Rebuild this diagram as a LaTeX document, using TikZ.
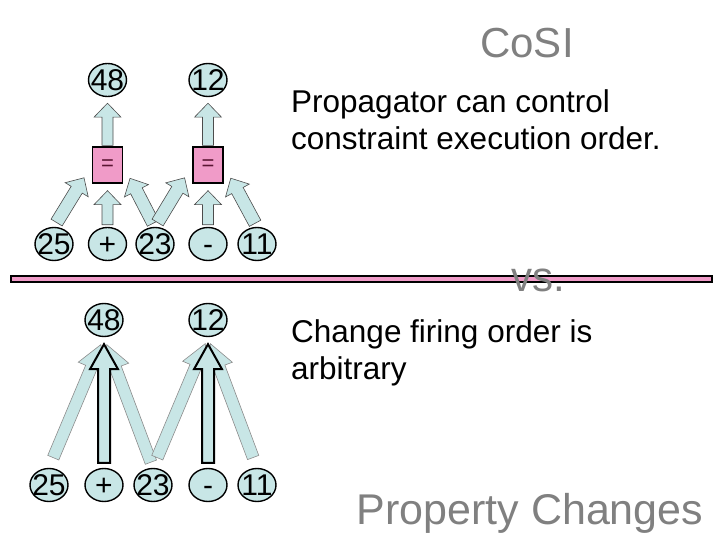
\documentclass[tikz,border=0pt]{standalone}
\usepackage{fontspec}
\setmainfont{Liberation Sans}
\usetikzlibrary{calc,shapes.geometric}

\definecolor{cellcyan}{RGB}{200,230,230}
\definecolor{eqpink}{RGB}{240,155,200}
\definecolor{eqtext}{RGB}{90,20,50}
\definecolor{titlegray}{RGB}{128,128,128}

\newcommand{\shaftw}{5pt}
\newcommand{\headw}{13pt}
% block arrow: [style]{from}{to}{start gap}{end gap}{head length}
\newcommand{\blockarrow}[6][]{%
  \path ($(#2)!#4!(#3)$) coordinate (ba-s);
  \path ($(#3)!#5!(#2)$) coordinate (ba-e);
  \path ($(ba-e)!#6!(ba-s)$) coordinate (ba-h);
  \draw[#1] ($(ba-s)!\shaftw!90:(ba-e)$) -- ($(ba-h)!\shaftw!90:(ba-e)$)
    -- ($(ba-h)!\headw!90:(ba-e)$) -- (ba-e) -- ($(ba-h)!\headw!-90:(ba-e)$)
    -- ($(ba-h)!\shaftw!-90:(ba-e)$) -- ($(ba-s)!\shaftw!-90:(ba-e)$) -- cycle;
}

\begin{document}
\begin{tikzpicture}[x=1pt,y=-1pt,
    val/.style={ellipse,draw,line width=1.4pt,fill=cellcyan,inner sep=-6pt,
      minimum width=38pt,minimum height=33pt,text height=21pt,text depth=0pt,
      font=\fontsize{30}{30}\selectfont},
    eqbox/.style={rectangle,draw,line width=1.3pt,fill=eqpink,inner sep=0pt,
      minimum width=30pt,minimum height=36pt,text=eqtext,
      font=\fontsize{22}{22}\selectfont},
    toparr/.style={fill=cellcyan,draw=black!70,line width=0.6pt},
    lightarr/.style={fill=cellcyan,draw=black!45,line width=0.6pt},
    heavyarr/.style={fill=cellcyan,draw=black,line width=2pt,line join=miter},
    note/.style={anchor=north west,inner sep=0pt,align=left,
      font=\fontsize{31.5}{37}\selectfont}]
  \useasboundingbox (0,0) rectangle (720,540);

  % upper half
  \node[val] (t48) at (107.5,80) {48};
  \node[val] (t12) at (208,80) {12};
  \node[eqbox] (eqA) at (107.5,165) {=};
  \node[eqbox] (eqB) at (208,165) {=};
  \node[val] (t25) at (54,244) {25};
  \node[val] (tplus) at (107.5,244) {+};
  \node[val] (t23) at (155,244) {23};
  \node[val] (tminus) at (208,244) {-};
  \node[val] (t11) at (257,244) {11};

  \renewcommand{\shaftw}{5.5pt}
  \renewcommand{\headw}{13.5pt}
  \blockarrow[toparr]{eqA.north}{t48.south}{1pt}{6pt}{14pt}
  \blockarrow[toparr]{eqB.north}{t12.south}{1pt}{6pt}{14pt}
  \blockarrow[toparr]{tplus.north}{eqA.south}{2pt}{7pt}{14pt}
  \blockarrow[toparr]{tminus.north}{eqB.south}{2pt}{7pt}{14pt}
  \renewcommand{\shaftw}{6.5pt}
  \blockarrow[toparr]{t25.north}{eqA.west}{5pt}{15pt}{14pt}
  \blockarrow[toparr]{t23.north}{eqA.east}{4pt}{15pt}{14pt}
  \blockarrow[toparr]{t23.north}{eqB.west}{5pt}{15pt}{14pt}
  \blockarrow[toparr]{t11.north}{eqB.east}{4pt}{15pt}{14pt}

  \draw[line width=2pt,fill=eqpink] (11,276) rectangle (712,282);

  % lower half
  \node[val] (b48) at (104,320) {48};
  \node[val] (b12) at (208,320) {12};
  \node[val] (b25) at (49,485) {25};
  \node[val] (bplus) at (104,485) {+};
  \node[val] (b23) at (153,485) {23};
  \node[val] (bminus) at (208,485) {-};
  \node[val] (b11) at (257,485) {11};

  \renewcommand{\shaftw}{6pt}
  \renewcommand{\headw}{14pt}
  \blockarrow[lightarr]{b25.north}{b48.south}{11pt}{8pt}{25pt}
  \blockarrow[lightarr]{b23.north}{b48.south}{6pt}{8pt}{25pt}
  \blockarrow[lightarr]{b23.north}{b12.south}{11pt}{7pt}{25pt}
  \blockarrow[lightarr]{b11.north}{b12.south}{11pt}{7pt}{25pt}
  \blockarrow[heavyarr]{bplus.north}{b48.south}{5pt}{7pt}{25pt}
  \blockarrow[heavyarr]{bminus.north}{b12.south}{5pt}{7pt}{25pt}

  % texts
  \node[anchor=base,text=titlegray,font=\fontsize{42}{42}\selectfont] (cosi) at (527,58) {CoSI};
  \node[note] (propnote) at (291,89) {Propagator can control\\constraint execution order.};
  \node[anchor=base,text=titlegray,font=\fontsize{42}{42}\selectfont] (vs) at (538.5,291) {vs.};
  \node[note] (changenote) at (291,319) {Change firing order is\\arbitrary};
  \node[anchor=base,text=titlegray,font=\fontsize{43}{43}\selectfont] (propchanges) at (530,524) {Property Changes};
\end{tikzpicture}
\end{document}
